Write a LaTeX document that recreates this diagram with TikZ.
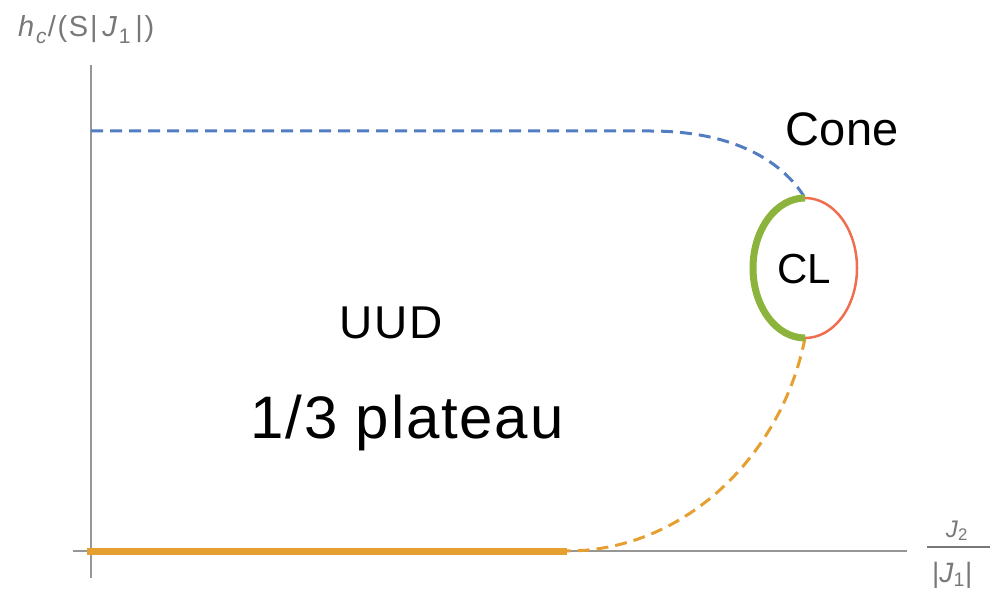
\documentclass[tikz,border=0pt]{standalone}
\usepackage{fontspec}
\setmainfont{Liberation Sans}
\definecolor{axisgray}{RGB}{150,150,150}
\definecolor{lblgray}{RGB}{120,120,120}
\definecolor{bluedash}{RGB}{82,125,192}
\definecolor{orng}{RGB}{230,160,50}
\definecolor{grn}{RGB}{140,180,60}
\definecolor{redc}{RGB}{240,110,80}
\newcommand{\mysub}[1]{\raisebox{-0.22em}{\fontsize{21}{22}\selectfont #1}}
\begin{document}
\begin{tikzpicture}[x=1pt,y=-1pt,
  axis/.style={draw=axisgray,line width=1.6pt},
  dashcurve/.style={line width=3pt,dash pattern=on 12pt off 7pt},
  lbl/.style={inner sep=0pt,anchor=base},
  axlbl/.style={inner sep=0pt,text=lblgray}]
\useasboundingbox (0,0) rectangle (990,593);
% axes
\coordinate (yb) at (91,578);
\coordinate (yt) at (91,65);
\coordinate (xl) at (73,551);
\coordinate (xr) at (907,551);
\draw[axis] (yb) -- (yt);
\draw[axis] (xl) -- (xr);
% key points
\coordinate (C) at (805,268);
\coordinate (top) at (805,198);
\coordinate (bot) at (805,338);
\coordinate (bstart) at (91,131);
\coordinate (bmid) at (650,131);
\coordinate (ostart) at (87,551);
\coordinate (oend) at (567,551);
% blue dashed
\draw[dashcurve,draw=bluedash] (bstart) -- (bmid) .. controls (735,131) and (783,162) .. (top);
% orange dashed
\draw[dashcurve,draw=orng] (bot) .. controls (782,455) and (685,551) .. (oend);
% orange thick solid
\draw[draw=orng,line width=7pt] (ostart) -- (oend);
% ellipse
\draw[draw=redc,line width=2.5pt] (top) arc[start angle=270,end angle=450,x radius=52,y radius=70];
\draw[draw=grn,line width=7pt] (top) arc[start angle=270,end angle=90,x radius=52,y radius=70];
% labels
\node[lbl] (cone) at (842,146) {\fontsize{47}{50}\selectfont\addfontfeatures{LetterSpace=1}Cone};
\node[lbl] (cl) at (804,284) {\fontsize{42}{46}\selectfont CL};
\node[lbl] (uud) at (391,338) {\fontsize{46}{50}\selectfont\addfontfeatures{LetterSpace=4}UUD};
\node[lbl] (plat) at (407,438) {\fontsize{60}{64}\selectfont\addfontfeatures{LetterSpace=3}1/3 plateau};
% y-axis label
\node[axlbl,anchor=base west] (ylab) at (18,37) {\fontsize{29}{32}\selectfont\addfontfeatures{LetterSpace=6}\textit{h}\mysub{\textit{c}}/(S|\,\textit{J}\mysub{1}\,|)};
% x-axis label
\node[axlbl,anchor=base] (xnum) at (957,537) {\fontsize{24}{26}\selectfont\textit{J}\textsubscript{2}};
\coordinate (fl) at (927,547);
\coordinate (fr) at (992,547);
\draw[draw=lblgray,line width=1.8pt] (fl) -- (fr);
\node[axlbl,anchor=base west] (xden) at (932,582) {\fontsize{28}{30}\selectfont|\textit{J}\textsubscript{1}|};
\end{tikzpicture}
\end{document}
